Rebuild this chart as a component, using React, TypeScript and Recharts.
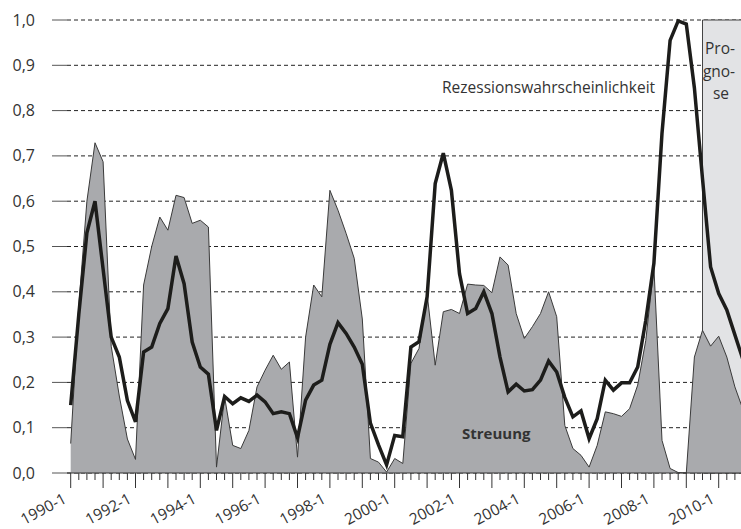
import {
  ComposedChart,
  Area,
  Line,
  XAxis,
  YAxis,
  CartesianGrid,
  ReferenceArea,
} from "recharts";

// quarters 1990-1 .. 2010-4
const years = [
  1990, 1991, 1992, 1993, 1994, 1995, 1996, 1997, 1998, 1999, 2000, 2001,
  2002, 2003, 2004, 2005, 2006, 2007, 2008, 2009, 2010,
];
const categories: string[] = years.flatMap((y) =>
  [1, 2, 3, 4].map((q) => `${y}-${q}`)
);

const rezession = [
  0.15, 0.35, 0.53, 0.6, 0.45, 0.3, 0.256, 0.16, 0.113, 0.267, 0.278, 0.33,
  0.363, 0.479, 0.418, 0.289, 0.234, 0.218, 0.094, 0.169, 0.153, 0.166, 0.158,
  0.172, 0.157, 0.131, 0.135, 0.131, 0.078, 0.161, 0.194, 0.205, 0.284, 0.332,
  0.308, 0.278, 0.24, 0.11, 0.062, 0.018, 0.083, 0.08, 0.278, 0.29, 0.389,
  0.639, 0.706, 0.624, 0.44, 0.352, 0.363, 0.4, 0.352, 0.256, 0.179, 0.196,
  0.181, 0.184, 0.205, 0.247, 0.223, 0.167, 0.124, 0.137, 0.076, 0.12, 0.205,
  0.183, 0.199, 0.199, 0.234, 0.337, 0.463, 0.75, 0.955, 0.998, 0.991, 0.85,
  0.65, 0.455, 0.396, 0.36, 0.305, 0.25,
];

const streuung = [
  0.065, 0.37, 0.6, 0.729, 0.687, 0.28, 0.17, 0.075, 0.03, 0.415, 0.5, 0.565,
  0.536, 0.613, 0.608, 0.551, 0.558, 0.543, 0.013, 0.168, 0.061, 0.054, 0.094,
  0.19, 0.227, 0.26, 0.229, 0.245, 0.035, 0.3, 0.415, 0.389, 0.624, 0.58,
  0.529, 0.474, 0.34, 0.032, 0.024, 0.002, 0.032, 0.021, 0.242, 0.275, 0.396,
  0.238, 0.356, 0.361, 0.352, 0.417, 0.415, 0.414, 0.398, 0.477, 0.459, 0.352,
  0.297, 0.323, 0.352, 0.4, 0.345, 0.105, 0.054, 0.039, 0.013, 0.061, 0.135,
  0.131, 0.125, 0.142, 0.194, 0.293, 0.455, 0.072, 0.01, 0.001, 0, 0.256,
  0.315, 0.28, 0.302, 0.256, 0.19, 0.14,
];

const yTicks = [0, 0.1, 0.2, 0.3, 0.4, 0.5, 0.6, 0.7, 0.8, 0.9, 1.0];
const prognoseStart = "2009-3";

const FONT = "'Open Sans', sans-serif";
const TEXT = "#333";
const AXIS_Y = 473; // plot bottom: 529 - xAxis height 56

const chartData = categories.map((c, i) => ({
  idx: i,
  label: c,
  rezession: rezession[i],
  streuung: streuung[i],
}));
const xTicks = chartData.map((d) => d.idx);
const lastIdx = categories.length - 1;

function XTick(props: any) {
  const x = Number(props.x);
  const i = Number(props.payload.value);
  const major = i % 4 === 0;
  const showLabel = i % 8 === 0;
  const ax = x - 3;
  const ay = AXIS_Y + 29;
  return (
    <g>
      <line x1={x} x2={x} y1={AXIS_Y} y2={AXIS_Y + (major ? 15 : 7)} stroke="#333" strokeWidth={1} />
      {showLabel && (
        <text
          x={ax}
          y={ay}
          textAnchor="end"
          fontSize={15.5}
          fill={TEXT}
          fontFamily={FONT}
          transform={`rotate(-28 ${ax} ${ay})`}
        >
          {categories[i]}
        </text>
      )}
    </g>
  );
}

function YTick(props: any) {
  const x = Number(props.x);
  const y = Number(props.y);
  const v = Number(props.payload.value);
  return (
    <g>
      <line x1={x - 15} x2={x} y1={y} y2={y} stroke="#555" strokeWidth={1} />
      <text x={x - 32} y={y + 5.5} textAnchor="end" fontSize={16} fill={TEXT} fontFamily={FONT}>
        {v.toFixed(1).replace(".", ",")}
      </text>
    </g>
  );
}

export default function App() {
  return (
    <div
      style={{
        position: "absolute",
        left: 0,
        top: 0,
        width: 741,
        height: 529,
        overflow: "hidden",
        background: "#fff",
      }}
    >
      <ComposedChart
        width={743}
        height={529}
        data={chartData}
        margin={{ top: 20, right: 0, bottom: 0, left: 12 }}
      >
        <ReferenceArea
          x1={categories.indexOf(prognoseStart)}
          x2={lastIdx}
          y1={0}
          y2={1}
          fill="#e2e3e5"
          fillOpacity={1}
          stroke="#444"
          strokeWidth={1}
        />
        <CartesianGrid vertical={false} stroke="#222" strokeDasharray="4 3" />
        <XAxis
          type="number"
          dataKey="idx"
          domain={[-0.457, lastIdx]}
          ticks={xTicks}
          interval={0}
          allowDataOverflow
          height={56}
          tickSize={0}
          tickMargin={0}
          tickLine={false}
          axisLine={{ stroke: "#333", strokeWidth: 1 }}
          tick={XTick}
        />
        <YAxis
          domain={[0, 1]}
          ticks={yTicks}
          width={55}
          tickSize={0}
          tickMargin={0}
          tickLine={false}
          axisLine={false}
          tick={YTick}
        />
        <Area
          type="linear"
          dataKey="streuung"
          fill="#a9aaad"
          fillOpacity={1}
          stroke="#3a3a3a"
          strokeWidth={1}
          isAnimationActive={false}
        />
        <Line
          type="linear"
          dataKey="rezession"
          stroke="#1d1d1b"
          strokeWidth={3.5}
          dot={false}
          isAnimationActive={false}
        />
      </ComposedChart>
      <svg
        width={741}
        height={529}
        style={{ position: "absolute", left: 0, top: 0, pointerEvents: "none" }}
      >
        <text x={442} y={93} fontSize={15.5} fill={TEXT} fontFamily={FONT}>
          Rezessionswahrscheinlichkeit
        </text>
        <text x={462} y={439} fontSize={15} fontWeight="bold" fill={TEXT} fontFamily={FONT}>
          Streuung
        </text>
        <text x={720} y={54} fontSize={15.5} fill={TEXT} fontFamily={FONT} textAnchor="middle">
          Pro-
        </text>
        <text x={719} y={77} fontSize={15.5} fill={TEXT} fontFamily={FONT} textAnchor="middle">
          gno-
        </text>
        <text x={721} y={99} fontSize={15.5} fill={TEXT} fontFamily={FONT} textAnchor="middle">
          se
        </text>
      </svg>
    </div>
  );
}
